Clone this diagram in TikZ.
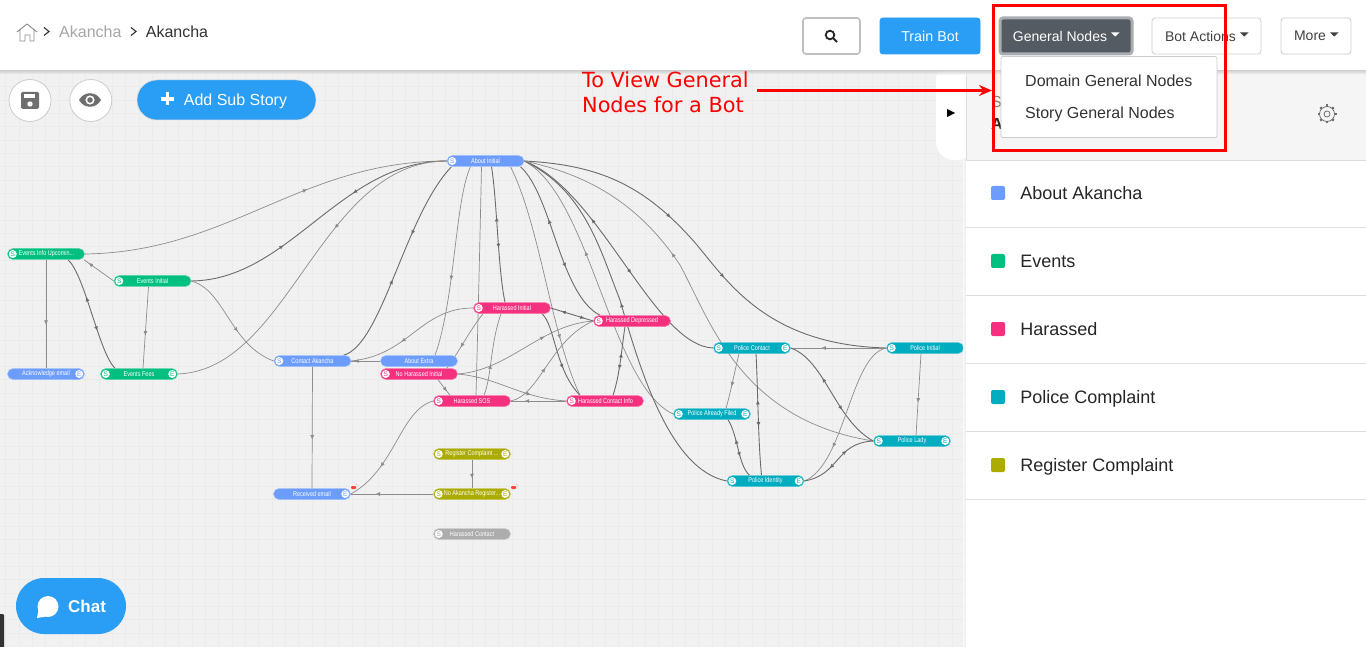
\documentclass[tikz,border=0pt]{standalone}
\usepackage{fontspec}
\setmainfont{Liberation Sans}
\newfontfamily\pillfont[FakeStretch=0.8]{Liberation Sans}
\newfontfamily\notefont{DejaVu Sans}
\usetikzlibrary{arrows.meta,positioning,calc,backgrounds,decorations.markings,shapes.misc}
\definecolor{abtblue}{HTML}{6C9DFC}
\definecolor{evgreen}{HTML}{00BF7F}
\definecolor{harpink}{HTML}{F5317F}
\definecolor{polteal}{HTML}{00ACBF}
\definecolor{reggold}{HTML}{ABAB00}
\definecolor{offgrey}{HTML}{ADADAD}
\definecolor{skyblue}{HTML}{2A9DF4}
\definecolor{slatebtn}{HTML}{545B62}
\definecolor{canvasbg}{HTML}{F1F1F1}
\definecolor{gridline}{HTML}{EBEBEB}
\definecolor{iconfill}{HTML}{6E6E6E}
\newcommand{\fpx}[1]{\fontsize{#1}{#1}\selectfont}
\tikzset{
  pill/.style={rounded rectangle,fill=#1,draw=#1!65!white,line width=.5,minimum width=77,minimum height=11,inner sep=0,text=white,font=\pillfont\fpx{6.9}},
  badge/.style={circle,fill=white,minimum size=8,inner sep=0,font=\fpx{6.5}},
  link/.style={draw=black!58,line width=.9},
  thinlink/.style={draw=black!45,line width=.7},
  flow/.style={postaction={decorate,decoration={markings,mark=at position #1 with {\arrow{Latex[length=4.5pt,width=4pt]}}}}},
  backflow/.style={postaction={decorate,decoration={markings,mark=at position #1 with {\arrowreversed{Latex[length=4.5pt,width=4pt]}}}}},
  navbtn/.style={draw=black!20,line width=.8,rounded corners=3,fill=white,minimum height=36,inner sep=0,text=black!75,font=\fpx{14}},
  roundbtn/.style={circle,draw=black!20,line width=.8,fill=white,minimum size=42,inner sep=0},
  flag/.style={fill=red!75,rounded corners=1,minimum width=5,minimum height=3,inner sep=0}
}
\begin{document}
\begin{tikzpicture}[x=1pt,y=-1pt,>=Latex]
\useasboundingbox (0,0) rectangle (1366,647);
\node (aboutinit) [pill=abtblue] at (485.5,161) {About Initial};
\node (evup) [pill=evgreen] at (46,254) {\kern1pt Events Info Upcomin...};
\node (evinit) [pill=evgreen] at (152.5,281) {Events Initial};
\node (ack) [pill=abtblue] at (46,374) {Acknowledge email};
\node (evfees) [pill=evgreen] at (139,374) {Events Fees};
\node (contact) [pill=abtblue] at (312.5,361) {Contact Akancha};
\node (extra) [pill=abtblue] at (419,361) {About Extra};
\node (nohar) [pill=harpink] at (419,374) {No Harassed Initial};
\node (harinit) [pill=harpink] at (512,308) {Harassed Initial};
\node (hardep) [pill=harpink] at (632,321) {Harassed Depressed};
\node (harsos) [pill=harpink] at (472,401) {Harassed SOS};
\node (harinfo) [pill=harpink] at (605,401) {\kern1pt Harassed Contact Info};
\node (regc) [pill=reggold] at (472,454) {Register Complaint ...};
\node (noreg) [pill=reggold] at (472,494) {No Akancha Register...};
\node (recv) [pill=abtblue] at (312,494) {Received email};
\node (harcon) [pill=offgrey] at (472,534) {Harassed Contact};
\node (polcon) [pill=polteal] at (752,348) {Police Contact};
\node (polinit) [pill=polteal] at (925,348) {Police Initial};
\node (polfil) [pill=polteal] at (712,414) {Police Already Filed};
\node (polidy) [pill=polteal] at (765.5,481) {Police Identity};
\node (pollady) [pill=polteal] at (912,441) {Police Lady};
\foreach \n/\c in {aboutinit/abtblue,evup/evgreen,evinit/evgreen,evfees/evgreen,contact/abtblue,nohar/harpink,harinit/harpink,hardep/harpink,harsos/harpink,harinfo/harpink,regc/reggold,noreg/reggold,harcon/offgrey,polcon/polteal,polinit/polteal,polfil/polteal,polidy/polteal,pollady/polteal}
  \node (\n-s) [badge,text=\c] at ($(\n.west)+(5.5,0)$) {S};
\foreach \n/\c in {ack/abtblue,evfees/evgreen,recv/abtblue,regc/reggold,noreg/reggold,polcon/polteal,polfil/polteal,polidy/polteal,pollady/polteal}
  \node (\n-e) [badge,text=\c] at ($(\n.east)+(-5.5,0)$) {E};
\node (recvflag) [flag] at (353.5,487.5) {};
\node (noregflag) [flag] at (513.5,487.5) {};
\draw[red!30,line width=.6] (355.5,483.5) -- (358,486);
\draw[red!30,line width=.6] (515.5,483.5) -- (518,486);
\begin{scope}[on background layer]
\fill[canvasbg] (0,71) rectangle (966,647);
\foreach \x in {5.7,19.03,...,960} \draw[gridline,line width=1] (\x,71) -- (\x,647);
\foreach \y in {73.4,86.73,...,647} \draw[gridline,line width=1] (0,\y) -- (966,\y);
\draw[thinlink,flow=.62] (evup.east) .. controls (230,252) and (300,161) .. (aboutinit.west);
\draw[link,flow=.35,backflow=.65] (evinit.east) .. controls (290,280) and (340,161) .. (aboutinit.west);
\draw[thinlink,backflow=.62] (evfees.east) .. controls (290,370) and (320,161) .. (aboutinit.west);
\draw[link,flow=.42,backflow=.64] ([xshift=31]contact.north) .. controls (382,345) and (405,215) .. ([xshift=-34]aboutinit.south);
\draw[thinlink,flow=.6] ([xshift=-15]aboutinit.south) .. controls (455,200) and (455,300) .. ([xshift=16]extra.north);
\draw[thinlink] ([xshift=-4]aboutinit.south) .. controls (480,240) and (478,320) .. ([xshift=4]harsos.north);
\draw[link,backflow=.37,flow=.6] ([xshift=6]aboutinit.south) .. controls (497,200) and (498,270) .. ([xshift=-7]harinit.north);
\draw[thinlink,flow=.75] ([xshift=25]aboutinit.south) .. controls (540,225) and (551,334) .. ([xshift=-25]harinfo.north);
\draw[link,flow=.65] ([xshift=30]harinit.south) .. controls (555,325) and (555,370) .. ([xshift=-25]harinfo.north);
\draw[link,backflow=.35,flow=.65] ([xshift=35]aboutinit.south) .. controls (552,195) and (560,295) .. ([xshift=-32]hardep.north);
\draw[thinlink,backflow=.37] (aboutinit.east) .. controls (590,195) and (611,386) .. (polfil.west);
\draw[link,backflow=.33,flow=.58] (aboutinit.east) .. controls (600,190) and (654,346) .. (polcon.west);
\draw[link,backflow=.45] (aboutinit.east) .. controls (585,190) and (600,250) .. (620,300) .. controls (640,370) and (670,470) .. (polidy.west);
\draw[link,flow=.38,flow=.57] (aboutinit.east) .. controls (600,165) and (645,185) .. (697,245) .. controls (730,285) and (770,345) .. (polinit.west);
\draw[thinlink,backflow=.38] (aboutinit.east) .. controls (590,175) and (640,205) .. (680,265) .. controls (710,320) and (740,420) .. (pollady.west);
\draw[thinlink,flow=.68] (polinit.west) -- (polcon.east);
\draw[link,backflow=.35,flow=.65] (polcon.east) .. controls (825,360) and (835,420) .. (pollady.west);
\draw[thinlink,flow=.6] ([xshift=-13]polcon.south) .. controls (735,370) and (730,395) .. ([xshift=14]polfil.north);
\draw[link,backflow=.38,flow=.6] ([xshift=4]polcon.south) .. controls (758,390) and (758,440) .. ([xshift=-4]polidy.north);
\draw[link,backflow=.35,flow=.65] ([xshift=16]polfil.south) .. controls (738,435) and (738,465) .. ([xshift=-16]polidy.north);
\draw[thinlink,flow=.6] ([xshift=-4]polinit.south) -- ([xshift=4]pollady.north);
\draw[thinlink,flow=.72] (polinit.west) .. controls (850,355) and (845,465) .. (polidy.east);
\draw[link,backflow=.35,flow=.65] (polidy.east) .. controls (840,475) and (835,443) .. (pollady.west);
\draw[thinlink,flow=.6] (harinit.west) .. controls (420,308) and (410,355) .. (contact.east);
\draw[thinlink,flow=.9] (extra.west) -- (contact.east);
\draw[thinlink,flow=.62] ([xshift=-29]harinit.south) .. controls (470,330) and (460,350) .. ([xshift=28]nohar.north);
\draw[thinlink,flow=.75] ([xshift=19]nohar.south) -- ([xshift=-22]harsos.north);
\draw[thinlink,flow=.65] (nohar.east) .. controls (510,370) and (540,325) .. (hardep.west);
\draw[thinlink,flow=.68] (nohar.east) .. controls (500,378) and (520,398) .. (harinfo.west);
\draw[thinlink,flow=.42] (harsos.east) .. controls (540,395) and (550,340) .. (hardep.west);
\draw[thinlink,flow=.75] (harinfo.west) -- (harsos.east);
\draw[thinlink,flow=.38] ([xshift=12]harsos.north) .. controls (492,375) and (490,345) .. ([xshift=-11]harinit.south);
\draw[link,backflow=.25,flow=.8] (harinit.east) -- (hardep.west);
\draw[link,backflow=.38,flow=.62] ([xshift=-7]hardep.south) .. controls (622,345) and (620,375) .. ([xshift=8]harinfo.north);
\draw[thinlink,flow=.68] (harsos.west) .. controls (400,410) and (395,470) .. (recv.east);
\draw[thinlink,flow=.6] (contact.south) -- (recv.north);
\draw[thinlink,flow=.7] (noreg.west) -- (recv.east);
\draw[thinlink,flow=.65] (regc.south) -- (noreg.north);
\draw[thinlink,flow=.85] (evinit.west) -- ([xshift=38]evup.south);
\draw[thinlink,flow=.6] (evup.south) -- ([xshift=0]ack.north);
\draw[link,backflow=.35,flow=.65] ([xshift=22]evup.south) .. controls (85,275) and (99,353) .. ([xshift=-24]evfees.north);
\draw[thinlink,flow=.6] ([xshift=-4]evinit.south) -- ([xshift=4]evfees.north);
\draw[thinlink,flow=.6] (evinit.east) .. controls (225,290) and (230,345) .. (contact.west);
\end{scope}
\shade[left color=black!0,right color=black!10,opacity=.6] (963,160) rectangle (966,647);
\fill[white,rounded corners=18] (975,62) -- (936,62) -- (936,160) -- (975,160) -- cycle;
\fill[black] (947,109) -- (955,113) -- (947,117) -- cycle;
\fill[white] (966,72) rectangle (1366,647);
\fill[black!4] (966,72) rectangle (1366,160);
\draw[black!13,line width=.7] (966,72) -- (966,160) -- (1366,160);
\node (storyhead) [text=black!50,font=\fpx{16},anchor=west,inner sep=0] at (991,102) {S};
\node (storyname) [text=black!85,font=\bfseries\fpx{16},anchor=west,inner sep=0] at (991,124) {A};
\coordinate (gear) at (1327,114);
\draw[iconfill,line width=.8] (gear) circle (3) (gear) circle (7.5);
\foreach \a in {0,45,...,315} \draw[iconfill,line width=2.2] ($(gear)+(\a:7.5)$) -- ($(gear)+(\a:9.5)$);
\foreach \y/\c/\t in {193/abtblue/About Akancha,261/evgreen/Events,329/harpink/Harassed,397/polteal/Police Complaint,465/reggold/Register Complaint}{
  \node (swatch\y) [fill=\c,rounded corners=2,minimum size=14,inner sep=0] at (998,\y) {};
  \node (row\y) [right=15pt of swatch\y,inner sep=0,text height=13,text depth=0,text=black!85,font=\fpx{18}] {\t};
  \draw[black!13,line width=.8] (966,{\y+34}) -- (1366,{\y+34});
}
\fill[white] (0,0) rectangle (1366,71);
\shade[top color=black!22,bottom color=black!0,opacity=.7] (0,71) rectangle (1366,75);
\draw[iconfill!80,line width=.9,line join=round] (17,32) -- (27,24) -- (37,32) (20,30) -- (20,41) -- (25,41) -- (25,35) -- (30,35) -- (30,41) -- (34,41) -- (34,30);
\draw[black!80,line width=1.1] (44,27.5) -- (49,31.5) -- (44,35.5);
\node (crumbone) [text=black!35,font=\fpx{16},anchor=west,inner sep=0] at (59,31.5) {Akancha};
\draw[black!80,line width=1.1] (131,27.5) -- (136,31.5) -- (131,35.5);
\node (crumbtwo) [right=24pt of crumbone,text=black!80,font=\fpx{16},inner sep=0] {Akancha};
\node (searchbtn) [navbtn,minimum width=57,draw=black!25,line width=1.6] at (831.5,36) {};
\draw[black!85,line width=1.8] (830,35) circle (4.3) (833.5,38.5) -- (837,42);
\node (trainbtn) [navbtn,minimum width=100,fill=skyblue,draw=skyblue,text=white,font=\fpx{14.3}] at (930,36) {Train Bot};
\node (genbtn) [navbtn,minimum width=132,fill=slatebtn,draw=slatebtn!50!white,line width=3,text=white] at (1066,36) {General Nodes\kern12pt};
\fill[white] (1111,32.5) -- (1119.5,32.5) -- (1115.25,36.5) -- cycle;
\node (botbtn) [navbtn,minimum width=109] at (1206.5,36) {Bot Actions\kern12pt};
\fill[black!75] (1240,32.5) -- (1248.5,32.5) -- (1244.25,36.5) -- cycle;
\node (morebtn) [navbtn,minimum width=70] at (1316,36) {More\kern12pt};
\fill[black!75] (1330,32.5) -- (1338.5,32.5) -- (1334.25,36.5) -- cycle;
\node (genmenu) [draw=black!20,line width=.7,rounded corners=2,fill=white,minimum width=216,minimum height=81,inner sep=0] at (1109,97) {};
\node (domitem) [text=black!80,font=\fpx{16},anchor=west,inner sep=0] at (1025,81) {Domain General Nodes};
\node (storyitem) [below=20pt of domitem.south west,anchor=north west,text=black!80,font=\fpx{16},inner sep=0] {Story General Nodes};
\node (redbox) [draw=red,line width=3,minimum width=232,minimum height=145,inner sep=0] at (1109.5,78) {};
\node (note) [text=red,font=\notefont\fontsize{20.8}{25}\selectfont,align=left,anchor=west,inner sep=0] at (582,92.5) {To View General\\Nodes for a Bot};
\coordinate (notearrow) at (757,90.5);
\draw[-{Stealth[length=13pt,width=11pt]},red,line width=2.5] (notearrow) -- (redbox.west |- notearrow);
\node (savebtn) [roundbtn] at (30,100.5) {};
\fill[iconfill,rounded corners=1.5] (21,92) rectangle (39,109);
\fill[white] (24,94.5) rectangle (35,98);
\fill[white] (30,104) circle (2.7);
\node (eyebtn) [roundbtn,right=18pt of savebtn] {};
\fill[iconfill] (79,100) .. controls (84,91) and (96,91) .. (101,100) .. controls (96,109) and (84,109) .. (79,100) -- cycle;
\fill[white] (90,100) circle (4.6);
\fill[iconfill] (90,100) circle (2.8);
\node (addbtn) [rounded rectangle,fill=skyblue,draw=black!15,line width=.5,minimum width=179,minimum height=40,inner sep=0,text height=11.5,text depth=0,text=white,font=\fpx{16}] at (226.5,100) {\hspace{18pt}Add Sub Story};
\draw[white,line width=3.6] (161,99) -- (174,99) (167.5,92.5) -- (167.5,105.5);
\node (chatbtn) [rounded rectangle,fill=skyblue,minimum width=110,minimum height=56,inner sep=0] at (71,606) {};
\fill[white] (48,606.5) circle (10.5);
\fill[white] (38.5,610) -- (37,618) -- (46,616.5) -- cycle;
\node (chatlabel) [text=white,font=\bfseries\fpx{17},anchor=west,inner sep=0] at (68,606) {Chat};
\fill[black!80,rounded corners=1] (-3,614) rectangle (4,650);
\end{tikzpicture}
\end{document}
